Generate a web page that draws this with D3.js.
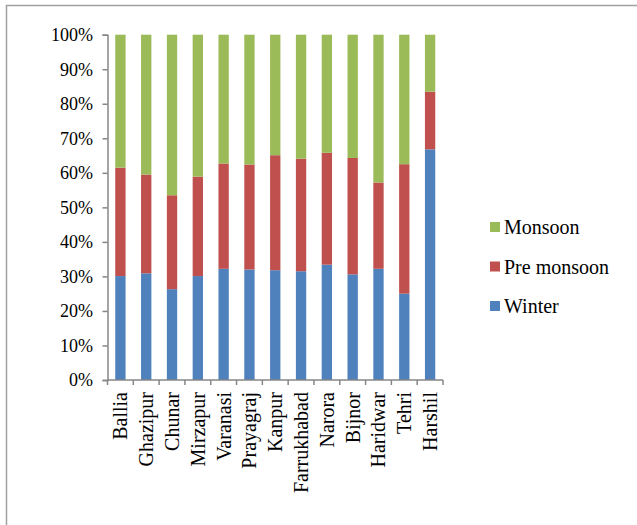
<!DOCTYPE html>
<html><head><meta charset="utf-8">
<script src="https://cdn.jsdelivr.net/npm/d3@7"></script>
</head><body style="margin:0">
<script>
const categories = ["Ballia","Ghazipur","Chunar","Mirzapur","Varanasi","Prayagraj","Kanpur","Farrukhabad","Narora","Bijnor","Haridwar","Tehri","Harshil"];
const winter = [30.1,30.9,26.3,30.1,32.2,32.0,31.8,31.5,33.4,30.6,32.2,25.0,66.8];
const preMonsoon = [31.4,28.6,27.2,28.8,30.5,30.4,33.3,32.6,32.4,33.7,25.0,37.5,16.7];
const monsoon = [38.5,40.5,46.5,41.1,37.3,37.6,34.9,35.9,34.2,35.7,42.8,37.5,16.5];
const seriesNames = ["Winter","Pre monsoon","Monsoon"];
const colors = ["#4f81bd","#c0504d","#9bbb59"];
const yTicks = [0,10,20,30,40,50,60,70,80,90,100];

const W=637,H=525;
const svg=d3.select("body").append("svg").attr("width",W).attr("height",H).style("display","block");

function serifText(sel,size){
  sel.attr("font-family","Times New Roman").style("font-family",'"Times New Roman"').style("font-size",size+"px").attr("fill","#000");
}

svg.append("rect").attr("x",6.5).attr("y",5.5).attr("width",W).attr("height",H)
  .attr("fill","none").attr("stroke","#a0a0a0").attr("stroke-width",1.5);

const x=d3.scaleBand().domain(categories).range([107.5,443]).paddingInner(0.6).paddingOuter(0.3);
const y=d3.scaleLinear().domain([0,100]).range([380,34.7]);

const data=categories.map((c,i)=>({cat:c,"Winter":winter[i],"Pre monsoon":preMonsoon[i],"Monsoon":monsoon[i]}));
const stacked=d3.stack().keys(seriesNames).offset(d3.stackOffsetExpand)(data);

svg.append("g").selectAll("g").data(stacked).join("g")
  .attr("fill",(d,i)=>colors[i])
  .selectAll("rect").data(d=>d).join("rect")
  .attr("x",d=>x(d.data.cat))
  .attr("width",x.bandwidth())
  .attr("y",d=>y(d[1]*100))
  .attr("height",d=>y(d[0]*100)-y(d[1]*100));

// y axis line and ticks via d3 axis, labels drawn separately
const ya=svg.append("g").attr("transform","translate(107.5,0)")
  .call(d3.axisLeft(y).tickValues(yTicks).tickFormat("").tickSize(5));
ya.selectAll("path,line").attr("stroke","#868686").attr("stroke-width",1.5);
const yl=svg.append("g");
yl.selectAll("text").data(yTicks).join("text")
  .attr("x",93).attr("y",d=>y(d)).attr("dy","0.35em").attr("text-anchor","end")
  .text(d=>d+"%").call(serifText,18);

// x axis with boundary ticks
const xa=svg.append("g").attr("transform","translate(0,380)");
const x0=107.5,x1=443;
xa.append("line").attr("x1",x0).attr("x2",x1).attr("y1",0).attr("y2",0).attr("stroke","#868686").attr("stroke-width",1.5);
const bounds=d3.range(categories.length+1).map(i=>x0+i*(x1-x0)/categories.length);
xa.selectAll("line.t").data(bounds).join("line").attr("class","t")
  .attr("x1",d=>d).attr("x2",d=>d).attr("y1",0).attr("y2",5).attr("stroke","#868686").attr("stroke-width",1.5);
xa.selectAll("text").data(categories).join("text")
  .attr("transform",d=>`translate(${x(d)+x.bandwidth()/2},12) rotate(-90)`)
  .attr("text-anchor","end").attr("dy","0.35em")
  .text(d=>d).call(serifText,20);

// legend
const legendOrder=["Monsoon","Pre monsoon","Winter"];
const lg=svg.append("g");
legendOrder.forEach((n,i)=>{
  const yy=227+i*39.5;
  lg.append("rect").attr("x",490).attr("y",yy-5).attr("width",10).attr("height",10).attr("fill",colors[seriesNames.indexOf(n)]);
  lg.append("text").attr("x",504).attr("y",yy).attr("dy","0.35em").text(n).call(serifText,20);
});
</script>
</body></html>
